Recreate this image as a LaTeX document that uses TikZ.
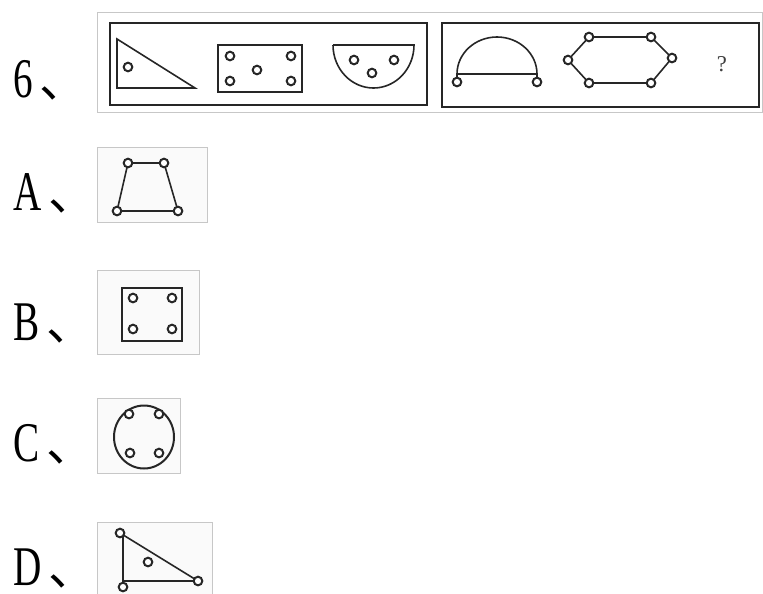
\documentclass[tikz,border=0pt]{standalone}
\usepackage{graphicx}
\usepackage{fontspec}
\setmainfont{Liberation Serif}
\newfontfamily\cjk{Noto Sans CJK SC}
\usetikzlibrary{calc}

\tikzset{
  qlabel/.style={anchor=base west, inner sep=0pt, font=\fontsize{42}{42}\selectfont},
  frame/.style={draw=black!22, line width=0.75pt},
  optbox/.style={frame, fill=black!2},
  bigbox/.style={draw=black!85, line width=2.2pt},
  fig/.style={draw=black!85, line width=1.2pt},
  hole/.style={fig, line width=1.5pt, fill=white}
}
\newcommand{\qtag}[1]{\scalebox{0.7}[1]{#1}\hspace{5pt}{\cjk\fontsize{36}{36}\selectfont 、}}

\begin{document}
\begin{tikzpicture}[x=0.75pt, y=-0.75pt]
  \useasboundingbox (0,0) rectangle (763,593);

  % question strip
  \draw[frame] (97,12) rectangle (762,112);
  \draw[bigbox] (110,23) rectangle (427,105);
  \draw[bigbox] (442,23) rectangle (759,107);
  \node[qlabel] (lab6) at (13,97) {\qtag{6}};

  % left box: triangle, rectangle, bowl
  \coordinate (T1) at (117,39);
  \coordinate (T2) at (117,88);
  \coordinate (T3) at (195,88);
  \draw[fig] (T1) -- (T2) -- (T3) -- cycle;
  \draw[hole] (128,67) circle (4.3);

  \coordinate (R1) at (218,45);
  \coordinate (R2) at (302,92);
  \draw[fig] (R1) rectangle (R2);
  \foreach \p in {(230,56),(291,56),(230,81),(291,81),(257,70)}
    \draw[hole] \p circle (4.3);

  \coordinate (S1) at (333,45);
  \coordinate (S2) at (414,45);
  \draw[fig] (S1) -- (S2) arc (0:180:40.5 and 43);
  \foreach \p in {(354,60),(394,60),(372,73)}
    \draw[hole] \p circle (4.3);

  % right box: dome, hexagon, question mark
  \coordinate (D1) at (457,74);
  \coordinate (D2) at (537,74);
  \coordinate (DL) at (457,82);
  \coordinate (DR) at (537,82);
  \draw[fig] (DL) -- (D1) arc (180:360:40 and 37) -- (DR);
  \draw[fig] (D1) -- (D2);
  \draw[hole] (DL) circle (4.3);
  \draw[hole] (DR) circle (4.3);

  \coordinate (H1) at (589,37);
  \coordinate (H2) at (651,37);
  \coordinate (H3) at (672,58);
  \coordinate (H4) at (651,83);
  \coordinate (H5) at (589,83);
  \coordinate (H6) at (568,60);
  \draw[fig] (H1) -- (H2) -- (H3) -- (H4) -- (H5) -- (H6) -- cycle;
  \foreach \p in {H1,H2,H3,H4,H5,H6}
    \draw[hole] (\p) circle (4.3);

  \node[font=\fontsize{17}{17}\selectfont, text=black!75] (qm) at (722,64) {?};

  % option A
  \draw[optbox] (97,147) rectangle (207,222);
  \node[qlabel] (labA) at (13,210) {\qtag{A}};
  \coordinate (A1) at (128,163);
  \coordinate (A2) at (164,163);
  \coordinate (A3) at (178,211);
  \coordinate (A4) at (117,211);
  \draw[fig] (A1) -- (A2) -- (A3) -- (A4) -- cycle;
  \foreach \p in {A1,A2,A3,A4}
    \draw[hole] (\p) circle (4.3);

  % option B
  \draw[optbox] (97,270) rectangle (199,354);
  \node[qlabel] (labB) at (13,340) {\qtag{B}};
  \coordinate (B1) at (122,288);
  \coordinate (B2) at (182,341);
  \draw[fig] (B1) rectangle (B2);
  \draw[fig, line width=2pt] (B1 |- B2) -- (B2);
  \foreach \p in {(133,298),(172,298),(133,329),(172,329)}
    \draw[hole] \p circle (4.3);

  % option C
  \draw[optbox] (97,398) rectangle (180,473);
  \node[qlabel] (labC) at (13,461) {\qtag{C}};
  \coordinate (C0) at (144,437);
  \draw[fig, line width=1.5pt] (C0) circle (30 and 31.5);
  \foreach \p in {(129,414),(159,414),(130,453),(159,453)}
    \draw[hole] \p circle (4.3);

  % option D
  \draw[optbox] (97,522) rectangle (212,600);
  \node[qlabel] (labD) at (13,585) {\qtag{D}};
  \coordinate (E1) at (120,533);
  \coordinate (E2) at (123,581);
  \coordinate (E3) at (198,581);
  \coordinate (E4) at (123,587);
  \draw[fig] (E1) -- (E3) -- (E2) -- (E4);
  \draw[fig] (123,535) -- (E2);
  \foreach \p in {(120,533),(198,581),(123,587),(148,562)}
    \draw[hole] \p circle (4.3);
\end{tikzpicture}
\end{document}
